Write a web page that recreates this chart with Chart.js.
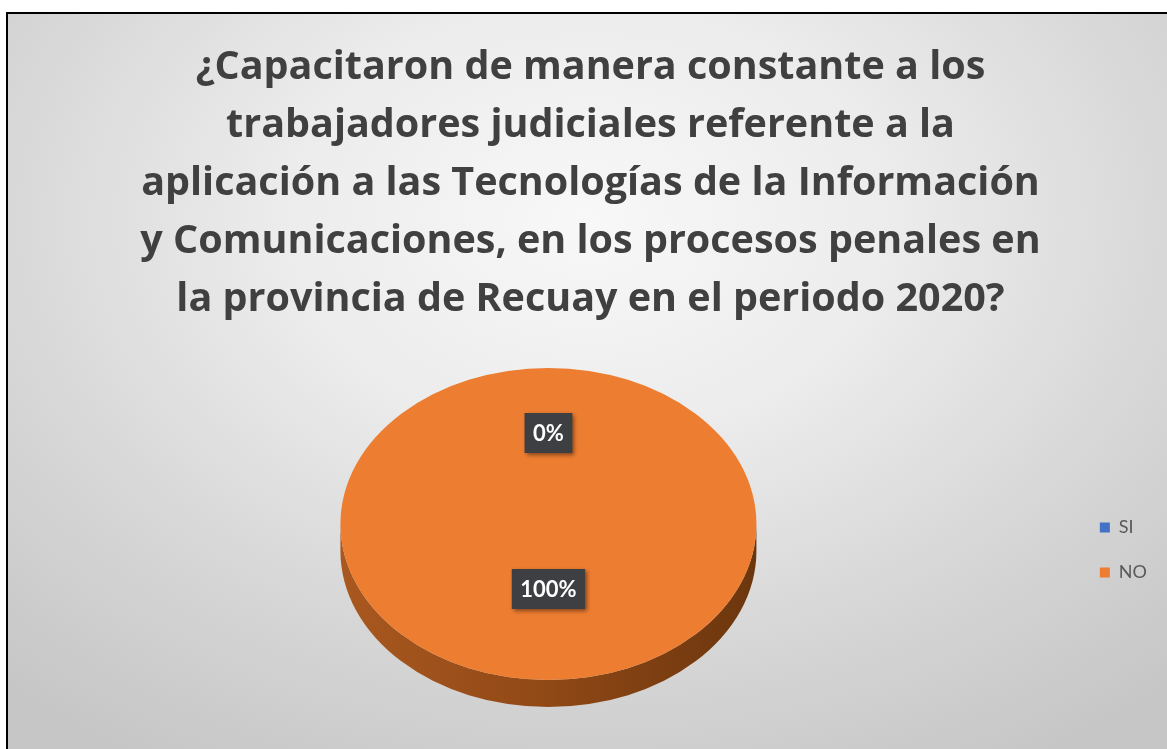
<!DOCTYPE html>
<html>
<head>
<meta charset="utf-8">
<script src="https://cdn.jsdelivr.net/npm/chart.js@4.4.1/dist/chart.umd.min.js"></script>
<style>
  html, body { margin: 0; padding: 0; background: #fff; overflow: hidden; width: 1167px; height: 749px; }
  #frame {
    position: absolute; left: 6px; top: 12px; width: 1159px; height: 737px;
    border-left: 2px solid #000; border-top: 2px solid #000;
    background: radial-gradient(ellipse 75% 85% at 50% 28%, #f8f8f8 0%, #ececec 35%, #d6d6d6 70%, #c6c6c6 100%);
  }
  #chart { position: absolute; left: 0; top: 0; }
</style>
</head>
<body>
<div id="frame"></div>
<canvas id="chart" width="1167" height="749"></canvas>
<script>
const categories = ["SI", "NO"];
const percentages = [0, 100];
const sliceColors = ["#4472c4", "#ed7d31"];
const titleLines = [
  "¿Capacitaron de manera constante a los",
  "trabajadores judiciales referente a la",
  "aplicación a las Tecnologías de la Información",
  "y Comunicaciones, en los procesos penales en",
  "la provincia de Recuay en el periodo 2020?"
];

// tilt of the pie (vertical squash) and thickness of its side
const tilt = 0.75;
const depth = 27;

const pie3d = {
  id: "pie3d",
  beforeDatasetsDraw(chart) {
    const arc = chart.getDatasetMeta(0).data[0];
    const { x, y, outerRadius: r } = arc;
    const ctx = chart.ctx;
    ctx.save();
    ctx.translate(x, y);
    ctx.scale(1, tilt);
    // side of the cylinder
    const g = ctx.createLinearGradient(-r, 0, r, 0);
    g.addColorStop(0, "#a9581f");
    g.addColorStop(0.45, "#934a17");
    g.addColorStop(1, "#6c360d");
    ctx.fillStyle = g;
    ctx.beginPath();
    ctx.ellipse(0, depth / tilt, r, r, 0, 0, Math.PI);
    ctx.lineTo(-r, 0);
    ctx.arc(0, 0, r, Math.PI, 0, true);
    ctx.closePath();
    ctx.fill();
    ctx.translate(-x, -y);
  },
  afterDatasetsDraw(chart) {
    const ctx = chart.ctx;
    ctx.restore();
    const meta = chart.getDatasetMeta(0);
    ctx.save();
    ctx.font = "bold 22px Lato";
    ctx.textAlign = "center";
    ctx.textBaseline = "middle";
    meta.data.forEach((arc, i) => {
      const mid = (arc.startAngle + arc.endAngle) / 2;
      const px = arc.x + Math.cos(mid) * arc.outerRadius * 0.5;
      const py = arc.y + Math.sin(mid) * arc.outerRadius * 0.5 * tilt - 13;
      const txt = percentages[i] + "%";
      const w = ctx.measureText(txt).width + 17;
      const h = 40;
      ctx.save();
      ctx.shadowColor = "rgba(0,0,0,0.45)";
      ctx.shadowBlur = 4;
      ctx.shadowOffsetX = 2;
      ctx.shadowOffsetY = 2;
      ctx.fillStyle = "#3d3f42";
      ctx.fillRect(px - w / 2, py - h / 2, w, h);
      ctx.restore();
      ctx.fillStyle = "#ffffff";
      ctx.fillText(txt, px, py + 1);
    });
    ctx.restore();
  }
};

new Chart(document.getElementById("chart"), {
  type: "pie",
  data: {
    labels: categories,
    datasets: [{
      data: percentages,
      backgroundColor: sliceColors,
      borderWidth: 0
    }]
  },
  options: {
    responsive: false,
    animation: false,
    devicePixelRatio: 1,
    layout: { padding: { top: 39, left: 24, right: 10, bottom: 17 } },
    plugins: {
      title: {
        display: true,
        text: titleLines,
        color: "#404040",
        font: { family: "Open Sans", weight: "bold", size: 39.5, lineHeight: "58px" },
        padding: { top: 0, bottom: -13 }
      },
      legend: {
        position: "right",
        fullSize: false,
        title: { display: true, text: "", padding: 0, font: { size: 52, lineHeight: 1 } },
        labels: {
          boxWidth: 10,
          boxHeight: 10,
          padding: 27,
          color: "#595959",
          font: { family: "Lato", size: 18 }
        }
      },
      tooltip: { enabled: false }
    }
  },
  plugins: [pie3d]
});
</script>
</body>
</html>
